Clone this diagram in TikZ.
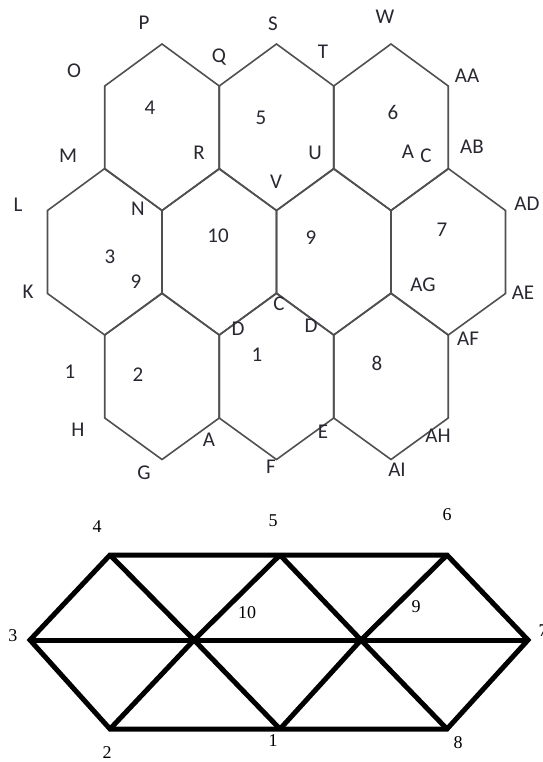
\documentclass[tikz,border=0pt]{standalone}
\usepackage{fontspec}
\setmainfont{Carlito}
\newfontfamily\timesf{Liberation Serif}
\definecolor{hexgray}{RGB}{80,80,80}
\definecolor{labcol}{RGB}{40,40,50}
\begin{document}
\begin{tikzpicture}[x=1pt,y=-1pt,
  hexline/.style={draw=hexgray, line width=1.6pt, line join=miter},
  hexlab/.style={font=\fontsize{21}{21}\selectfont, text=labcol, inner sep=0pt},
  gedge/.style={draw=black, line width=5pt, line join=miter},
  glab/.style={font=\timesf\fontsize{18}{18}\selectfont, text=black, inner sep=0pt}]
\useasboundingbox (0,0) rectangle (542,762);
% hexagon tiling
\foreach \cx/\ty in {162/44, 276.5/44, 391/44,
                     104.75/168.5, 219.25/168.5, 333.75/168.5, 448.25/168.5,
                     162/293, 276.5/293, 391/293}
  \draw[hexline] (\cx,\ty) -- ++(57.25,42) -- ++(0,83) -- ++(-57.25,41.5)
     -- ++(-57.25,-41.5) -- ++(0,-83) -- cycle;
% hexagon labels
\node[hexlab] (lP) at (144,23) {P};
\node[hexlab] (lO) at (74,71) {O};
\node[hexlab] (lQ) at (219,57) {Q};
\node[hexlab] (lS) at (273,24) {S};
\node[hexlab] (lT) at (323,52) {T};
\node[hexlab] (lW) at (385,17) {W};
\node[hexlab] (lAA) at (467,76) {AA};
\node[hexlab] (h4) at (150,108) {4};
\node[hexlab] (h5) at (261,118) {5};
\node[hexlab] (h6) at (393,112) {6};
\node[hexlab] (lM) at (68,156) {M};
\node[hexlab] (lR) at (199,153) {R};
\node[hexlab] (lU) at (315,153) {U};
\node[hexlab] (lAc1) at (408,152) {A};
\node[hexlab] (lAc2) at (426,156) {C};
\node[hexlab] (lAB) at (472,147) {AB};
\node[hexlab] (lL) at (18,205) {L};
\node[hexlab] (lN) at (138,209) {N};
\node[hexlab] (lV) at (276,182) {V};
\node[hexlab] (h10) at (218,236) {10};
\node[hexlab] (h9) at (311,238) {9};
\node[hexlab] (h7) at (442,230) {7};
\node[hexlab] (lAD) at (527,204) {AD};
\node[hexlab] (h3) at (110,257) {3};
\node[hexlab] (l9b) at (136,282) {9};
\node[hexlab] (lK) at (28,292) {K};
\node[hexlab] (lC) at (279,304) {C};
\node[hexlab] (lD1) at (238,329) {D};
\node[hexlab] (lD2) at (311,326) {D};
\node[hexlab] (h1) at (257,355) {1};
\node[hexlab] (l1b) at (70,372) {1};
\node[hexlab] (h2) at (138,375) {2};
\node[hexlab] (h8) at (377,363) {8};
\node[hexlab] (lAG) at (423,285) {AG};
\node[hexlab] (lAE) at (523,293) {AE};
\node[hexlab] (lAF) at (468,339) {AF};
\node[hexlab] (lH) at (78,430) {H};
\node[hexlab] (lA) at (209,440) {A};
\node[hexlab] (lG) at (144,473) {G};
\node[hexlab] (lF) at (271,467) {F};
\node[hexlab] (lE) at (323,432) {E};
\node[hexlab] (lAH) at (438,436) {AH};
\node[hexlab] (lAI) at (397,470) {AI};
% graph
\coordinate (n4) at (110,555);
\coordinate (n5) at (280,555);
\coordinate (n6) at (447,555);
\coordinate (n3) at (30,640);
\coordinate (n10) at (194,640);
\coordinate (n9) at (361,640);
\coordinate (n7) at (528,640);
\coordinate (n2) at (110,729);
\coordinate (n1) at (280,729);
\coordinate (n8) at (447,729);
\draw[gedge] (n4) -- (n5) -- (n6) -- (n7) -- (n8) -- (n1) -- (n2) -- (n3) -- cycle;
\draw[gedge] (n3) -- (n10) -- (n9) -- (n7);
\draw[gedge] (n4) -- (n10) -- (n1);
\draw[gedge] (n2) -- (n10) -- (n5);
\draw[gedge] (n5) -- (n9) -- (n8);
\draw[gedge] (n1) -- (n9) -- (n6);
\node[glab] (g4) at (97,527) {4};
\node[glab] (g5) at (273,521) {5};
\node[glab] (g6) at (447,515) {6};
\node[glab] (g3) at (13,636) {3};
\node[glab] (g10) at (247,613) {10};
\node[glab] (g9) at (416,607) {9};
\node[glab] (g7) at (543,631) {7};
\node[glab] (g2) at (107,753) {2};
\node[glab] (g1) at (273,741) {1};
\node[glab] (g8) at (458,743) {8};
\end{tikzpicture}
\end{document}
